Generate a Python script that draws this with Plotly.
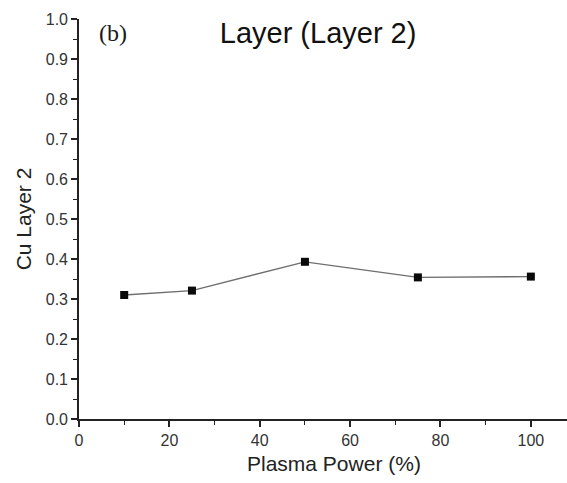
import plotly.graph_objects as go

# Cu content of layer 2 versus plasma power
plasma_power = [10, 25, 50, 75, 100]
cu_layer2 = [0.310, 0.321, 0.393, 0.354, 0.356]

x_ticks = [0, 20, 40, 60, 80, 100]
y_ticks = [0.0, 0.1, 0.2, 0.3, 0.4, 0.5, 0.6, 0.7, 0.8, 0.9, 1.0]

fig = go.Figure()
fig.add_trace(go.Scatter(
    x=plasma_power,
    y=cu_layer2,
    mode="lines+markers",
    line=dict(color="#6e6e6e", width=1.3),
    marker=dict(symbol="square", size=8, color="#0a0a0a"),
    showlegend=False,
))

axis_font = dict(family="Liberation Sans, Arial, sans-serif", size=16, color="#333333")
ink = "#222222"

fig.update_layout(
    width=567,
    height=483,
    margin=dict(l=79, r=0, t=19, b=64),
    paper_bgcolor="white",
    plot_bgcolor="white",
    title=dict(
        text="Layer (Layer 2)",
        font=dict(family="Liberation Sans, Arial, sans-serif", size=29, color="#111111"),
        x=0.561, xref="container", xanchor="center",
        y=0.932, yref="container", yanchor="middle",
    ),
    xaxis=dict(
        range=[0, 108],
        tickvals=x_ticks,
        ticktext=[str(v) for v in x_ticks],
        ticks="outside", ticklen=6, tickwidth=1.5, tickcolor=ink,
        minor=dict(dtick=10, tick0=0, ticks="outside", ticklen=4, tickwidth=1.3, tickcolor=ink),
        showline=True, linecolor=ink, linewidth=1.6,
        showgrid=False, zeroline=False,
        tickfont=axis_font,
    ),
    yaxis=dict(
        range=[0, 1.0],
        tickvals=y_ticks,
        ticktext=[f"{v:.1f}" for v in y_ticks],
        ticks="outside", ticklen=6, tickwidth=1.5, tickcolor=ink,
        minor=dict(dtick=0.05, tick0=0, ticks="outside", ticklen=4, tickwidth=1.3, tickcolor=ink),
        showline=True, linecolor=ink, linewidth=1.6,
        showgrid=False, zeroline=False,
        tickfont=axis_font,
        title=dict(text="Cu Layer 2",
                   font=dict(family="Liberation Sans, Arial, sans-serif", size=21, color="#222222"),
                   standoff=8),
    ),
)

# x-axis title placed slightly right of the plot centre
fig.add_annotation(
    text="Plasma Power (%)", x=0.523, y=-0.112, xref="paper", yref="paper",
    xanchor="center", yanchor="middle", showarrow=False,
    font=dict(family="Liberation Sans, Arial, sans-serif", size=21, color="#222222"),
)

fig.add_annotation(
    text="(b)", x=7.6, y=0.965, xref="x", yref="y",
    showarrow=False,
    font=dict(family="Liberation Serif, Times New Roman, serif", size=24, color="#1a1a1a"),
)

fig.write_html("out.html")
